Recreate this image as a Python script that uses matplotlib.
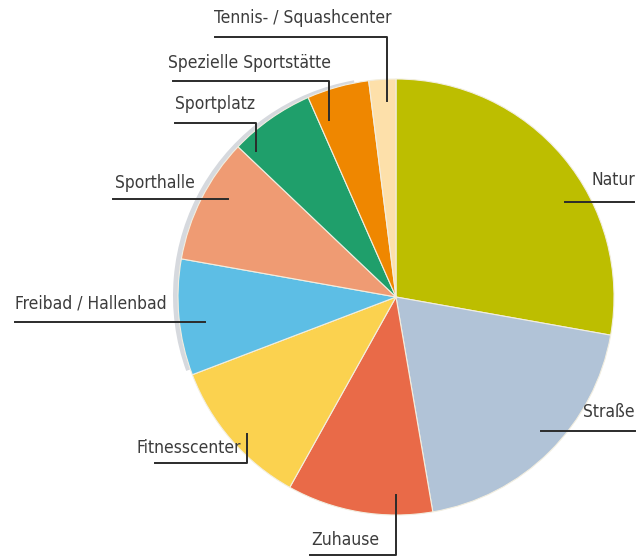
import matplotlib
matplotlib.use("Agg")
import matplotlib.pyplot as plt
from matplotlib.patches import Wedge

# Anteile (geschätzt aus dem Bild), im Uhrzeigersinn ab 12 Uhr
labels = ["Natur", "Straße", "Zuhause", "Fitnesscenter", "Freibad / Hallenbad",
          "Sporthalle", "Sportplatz", "Spezielle Sportstätte", "Tennis- / Squashcenter"]
values = [27.8, 19.5, 10.8, 11.1, 8.6, 9.3, 6.3, 4.6, 2.0]
colors = ["#BDBE00", "#B1C3D7", "#E96A48", "#FBD24F", "#5DBEE5",
          "#EF9B73", "#1F9F6B", "#EF8700", "#FDE0AA"]

W, H = 641, 556
CX, CY, R = 396, H - 297, 218
TXT = "#3c3c3c"

plt.rcParams["font.family"] = ["DejaVu Sans"]

fig = plt.figure(figsize=(W / 100, H / 100), dpi=100)
ax = fig.add_axes([0, 0, 1, 1])

# leichter Schatten links
ax.add_patch(Wedge((CX - 4, CY + 1), R + 1, 100, 200, facecolor="#D6D9DE",
                   edgecolor="none", zorder=0))

ax.pie(values, colors=colors, startangle=90, counterclock=False,
       center=(CX, CY), radius=R, frame=True,
       wedgeprops={"edgecolor": "#F2EEE0", "linewidth": 0.8})
ax.set_xlim(0, W)
ax.set_ylim(0, H)
ax.set_aspect("equal")
ax.axis("off")

# Beschriftungen: (Text, Text-x, Text-y, ha, Linienpunkte in Pixeln)
annots = [
    ("Natur", 635, 180, "right", [(565, 202), (634, 202)]),
    ("Straße", 635, 412, "right", [(541, 431), (635, 431)]),
    ("Zuhause", 311, 540, "left", [(310, 555), (396, 555), (396, 495)]),
    ("Fitnesscenter", 241, 448, "right", [(155, 463), (247, 463), (247, 434)]),
    ("Freibad / Hallenbad", 15, 304, "left", [(15, 322), (205, 322)]),
    ("Sporthalle", 115, 183, "left", [(113, 199), (228, 199)]),
    ("Sportplatz", 175, 104, "left", [(175, 123), (256, 123), (256, 151)]),
    ("Spezielle Sportstätte", 168, 63, "left", [(173, 81), (329, 81), (329, 120)]),
    ("Tennis- / Squashcenter", 214, 18, "left", [(215, 37), (387, 37), (387, 101)]),
]
for text, tx, ty, ha, pts in annots:
    ax.text(tx, H - ty, text, ha=ha, va="center", fontsize=12.5, color=TXT,
            fontstretch="condensed")
    xs = [p[0] for p in pts]
    ys = [H - p[1] for p in pts]
    ax.plot(xs, ys, color="#2b2b2b", linewidth=1.4, zorder=5)

fig.savefig("out.png", dpi=100)
